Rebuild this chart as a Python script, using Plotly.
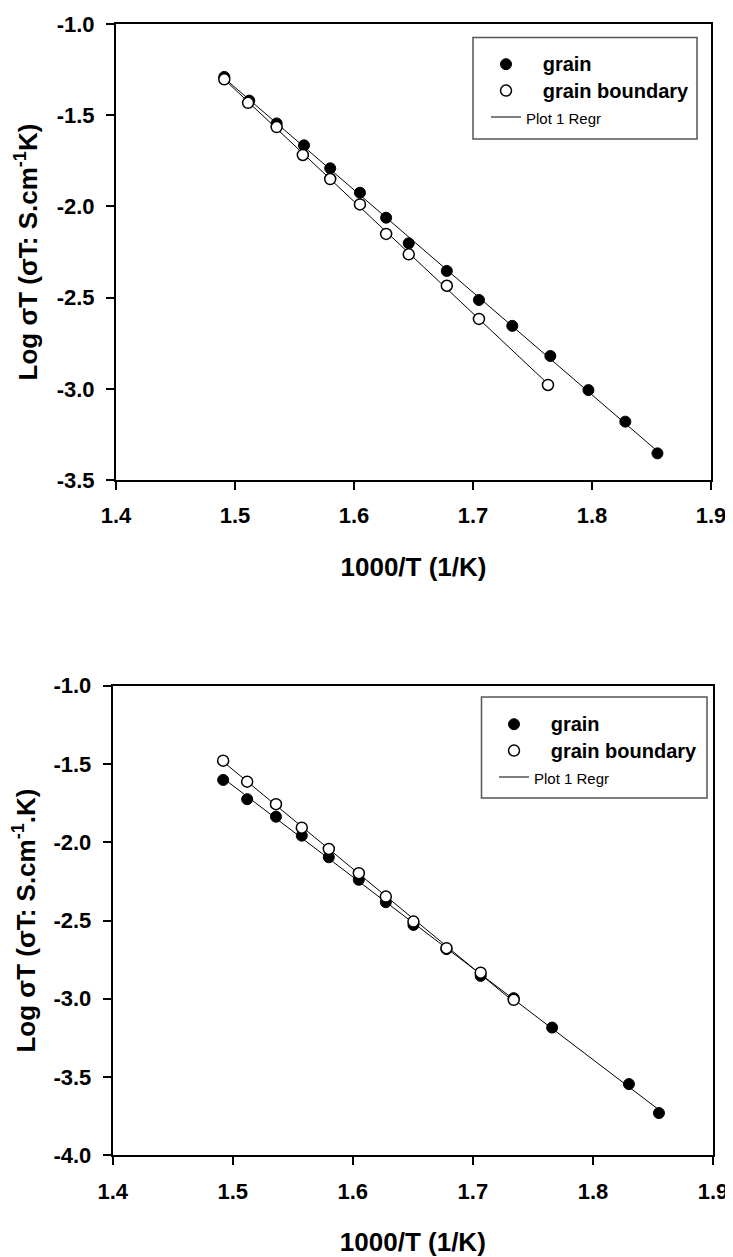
import numpy as np
import plotly.graph_objects as go

# page is 733x1257; the html body adds an 8px margin, so the figure is shifted
OFF = 8
W, H = 733 - OFF, 1257 - OFF

# ---------------- data ----------------
# Top panel
top_grain_x = [1.491, 1.512, 1.535, 1.558, 1.580, 1.605, 1.627, 1.646, 1.678, 1.705, 1.733, 1.765, 1.797, 1.828, 1.855]
top_grain_y = [-1.290, -1.420, -1.545, -1.665, -1.791, -1.925, -2.062, -2.202, -2.354, -2.513, -2.655, -2.820, -3.007, -3.180, -3.354]
top_gb_x = [1.491, 1.511, 1.535, 1.557, 1.580, 1.605, 1.627, 1.646, 1.678, 1.705, 1.763]
top_gb_y = [-1.303, -1.432, -1.565, -1.718, -1.850, -1.989, -2.151, -2.263, -2.435, -2.617, -2.979]

# Bottom panel
bot_grain_x = [1.492, 1.512, 1.536, 1.5575, 1.580, 1.605, 1.6275, 1.6505, 1.678, 1.7065, 1.734, 1.766, 1.830, 1.855]
bot_grain_y = [-1.602, -1.725, -1.837, -1.958, -2.096, -2.240, -2.383, -2.528, -2.683, -2.854, -2.996, -3.184, -3.545, -3.730]
bot_gb_x = [1.492, 1.512, 1.536, 1.5575, 1.580, 1.605, 1.6275, 1.6505, 1.678, 1.7065, 1.734]
bot_gb_y = [-1.479, -1.613, -1.757, -1.907, -2.043, -2.198, -2.347, -2.507, -2.677, -2.833, -3.007]

x_tickvals = [1.4, 1.5, 1.6, 1.7, 1.8, 1.9]
x_ticktext = ["1.4", "1.5", "1.6", "1.7", "1.8", "1.9"]
top_y_tickvals = [-1.0, -1.5, -2.0, -2.5, -3.0, -3.5]
top_y_ticktext = ["-1.0", "-1.5", "-2.0", "-2.5", "-3.0", "-3.5"]
bot_y_tickvals = [-1.0, -1.5, -2.0, -2.5, -3.0, -3.5, -4.0]
bot_y_ticktext = ["-1.0", "-1.5", "-2.0", "-2.5", "-3.0", "-3.5", "-4.0"]

x_title = "1000/T (1/K)"
top_y_title = "Log σT (σT: S.cm<sup>-1</sup>K)"
bot_y_title = "Log σT (σT: S.cm<sup>-1</sup>.K)"
name_grain = "grain"
name_gb = "grain boundary"
name_regr = "Plot 1 Regr"

FONT = "Liberation Sans, Arial, sans-serif"


def px(x):
    return (x - OFF) / W


def py(y):
    return 1 - (y - OFF) / H


def bold(lst):
    return ["<b>" + s + "</b>" for s in lst]


def regr(x, y):
    m, b = np.polyfit(x, y, 1)
    xs = np.array([min(x), max(x)])
    return xs, m * xs + b


fig = go.Figure()

panels = [
    dict(xa="x", ya="y", legend="legend", gx=top_grain_x, gy=top_grain_y, bx=top_gb_x, by=top_gb_y),
    dict(xa="x2", ya="y2", legend="legend2", gx=bot_grain_x, gy=bot_grain_y, bx=bot_gb_x, by=bot_gb_y),
]

for p in panels:
    for i, (xx, yy) in enumerate([(p["gx"], p["gy"]), (p["bx"], p["by"])]):
        rx, ry = regr(xx, yy)
        fig.add_trace(go.Scatter(
            x=rx, y=ry, mode="lines", line=dict(color="black", width=1),
            xaxis=p["xa"], yaxis=p["ya"], legend=p["legend"],
            name="<span style='font-size:15px;font-weight:normal'>" + name_regr + "</span>",
            showlegend=(i == 0), legendrank=3, hoverinfo="skip"))
    fig.add_trace(go.Scatter(
        x=p["gx"], y=p["gy"], mode="markers",
        marker=dict(symbol="circle", size=11, color="black", line=dict(color="black", width=1)),
        xaxis=p["xa"], yaxis=p["ya"], legend=p["legend"],
        name="<span style='font-size:20px'>&#160;&#160;&#160;" + name_grain + "</span>", legendrank=1))
    fig.add_trace(go.Scatter(
        x=p["bx"], y=p["by"], mode="markers",
        marker=dict(symbol="circle", size=11, color="white", line=dict(color="black", width=1.5)),
        xaxis=p["xa"], yaxis=p["ya"], legend=p["legend"],
        name="<span style='font-size:20px'>&#160;&#160;&#160;" + name_gb + "</span>", legendrank=2))

axis_common = dict(
    showline=True, linecolor="black", linewidth=2, mirror=True,
    ticks="outside", ticklen=8, tickwidth=2, tickcolor="black",
    showgrid=False, zeroline=False, automargin=False, ticklabelstandoff=7,
    tickfont=dict(family=FONT, size=22, color="black"),
)
title_font = dict(family=FONT, size=26, color="black", weight="bold")

legend_common = dict(
    xanchor="left", yanchor="top", bgcolor="rgba(0,0,0,0)", borderwidth=0,
    font=dict(family=FONT, size=18, color="black", weight="bold"),
    itemclick=False, itemdoubleclick=False,
)

fig.update_layout(
    template="none",
    width=W, height=H,
    margin=dict(l=0, r=0, t=0, b=0, pad=0),
    paper_bgcolor="white", plot_bgcolor="white",
    font=dict(family=FONT, color="black"),
    xaxis=dict(domain=[px(116), px(711)], range=[1.4, 1.9], anchor="y",
               tickvals=x_tickvals, ticktext=bold(x_ticktext),
               title=dict(text=x_title, font=title_font, standoff=30), **axis_common),
    yaxis=dict(domain=[py(480), py(24)], range=[-3.5, -1.0], anchor="x",
               tickvals=top_y_tickvals, ticktext=bold(top_y_ticktext),
               title=dict(text=top_y_title, font=title_font, standoff=12), **axis_common),
    xaxis2=dict(domain=[px(112.7), px(713)], range=[1.4, 1.9], anchor="y2",
                tickvals=x_tickvals, ticktext=bold(x_ticktext),
                title=dict(text=x_title, font=title_font, standoff=30), **axis_common),
    yaxis2=dict(domain=[py(1155.3), py(685.7)], range=[-4.0, -1.0], anchor="x2",
                tickvals=bot_y_tickvals, ticktext=bold(bot_y_ticktext),
                title=dict(text=bot_y_title, font=title_font, standoff=12), **axis_common),
    legend=dict(x=px(486), y=py(46), **legend_common),
    legend2=dict(x=px(494), y=py(706), **legend_common),
    showlegend=True,
)

# legend frames
fig.add_shape(type="rect", xref="paper", yref="paper",
              x0=px(473), x1=px(697), y0=py(139), y1=py(37.5),
              line=dict(color="#555555", width=1.5), fillcolor="rgba(0,0,0,0)", layer="below")
fig.add_shape(type="rect", xref="paper", yref="paper",
              x0=px(481.5), x1=px(707), y0=py(798), y1=py(697),
              line=dict(color="#555555", width=1.5), fillcolor="rgba(0,0,0,0)", layer="below")

fig.write_html("out.html")
